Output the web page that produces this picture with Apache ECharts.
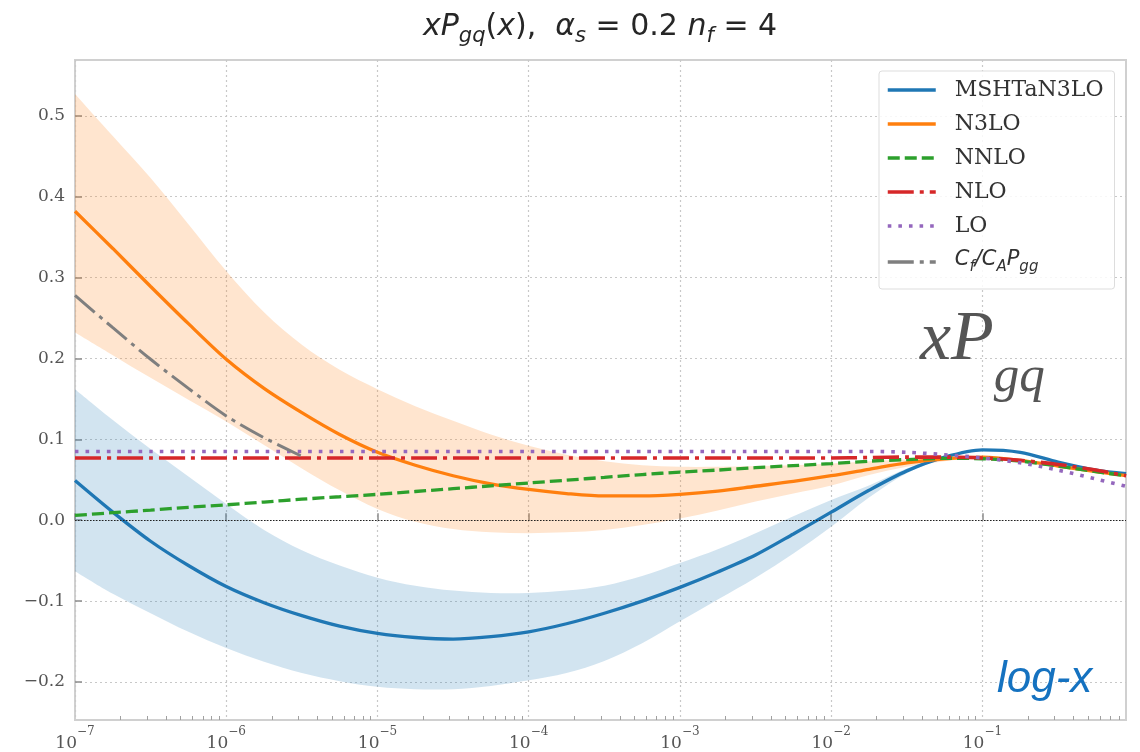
<!DOCTYPE html>
<html>
<head>
<meta charset="utf-8">
<script src="https://cdn.jsdelivr.net/npm/echarts@6/dist/echarts.min.js"></script>
<style>
  html, body { margin: 0; padding: 0; background: #ffffff; }
  #chart { width: 1140px; height: 752px; }
</style>
</head>
<body>
<div id="chart"></div>
<script>
// Sample grid: log10(x) positions where the curves are tabulated
const xExp = [-7, -6.75, -6.5, -6.25, -6, -5.75, -5.5, -5.25, -5, -4.75, -4.5, -4.25, -4, -3.75,
  -3.5, -3.25, -3, -2.75, -2.5, -2.25, -2, -1.75, -1.5, -1.25, -1, -0.75, -0.5, -0.25, -0.05];

// MSHTaN3LO central value and uncertainty band
const mshtCentral = [0.049, 0.010, -0.026, -0.056, -0.082, -0.102, -0.118, -0.131, -0.140, -0.145,
  -0.147, -0.144, -0.138, -0.128, -0.115, -0.100, -0.083, -0.064, -0.043, -0.017, 0.010, 0.037,
  0.061, 0.078, 0.087, 0.084, 0.072, 0.062, 0.0575];
const mshtUpper = [0.162, 0.124, 0.088, 0.054, 0.020, -0.012, -0.037, -0.056, -0.071, -0.081,
  -0.087, -0.090, -0.090, -0.087, -0.081, -0.069, -0.053, -0.036, -0.016, 0.005, 0.025, 0.043,
  0.064, 0.079, 0.088, 0.085, 0.073, 0.0625, 0.058];
const mshtLower = [-0.063, -0.091, -0.115, -0.138, -0.158, -0.175, -0.189, -0.199, -0.206, -0.209,
  -0.209, -0.205, -0.198, -0.189, -0.174, -0.152, -0.125, -0.098, -0.071, -0.041, -0.008, 0.028,
  0.058, 0.077, 0.086, 0.083, 0.071, 0.0615, 0.057];

// N3LO central value and uncertainty band
const n3loCentral = [0.382, 0.336, 0.289, 0.243, 0.199, 0.163, 0.133, 0.106, 0.084, 0.068, 0.055,
  0.045, 0.038, 0.033, 0.030, 0.030, 0.032, 0.036, 0.042, 0.048, 0.055, 0.063, 0.071, 0.076,
  0.078, 0.074, 0.067, 0.060, 0.055];
const n3loUpper = [0.527, 0.475, 0.423, 0.366, 0.308, 0.257, 0.217, 0.186, 0.162, 0.141, 0.123,
  0.106, 0.092, 0.081, 0.073, 0.068, 0.066, 0.066, 0.067, 0.068, 0.070, 0.073, 0.075, 0.077,
  0.079, 0.075, 0.068, 0.061, 0.056];
const n3loLower = [0.232, 0.204, 0.176, 0.149, 0.122, 0.093, 0.064, 0.037, 0.014, -0.002, -0.011,
  -0.015, -0.016, -0.015, -0.012, -0.006, 0.002, 0.012, 0.023, 0.033, 0.043, 0.056, 0.066, 0.073,
  0.077, 0.073, 0.066, 0.059, 0.054];

const nnlo = [0.006, 0.0093, 0.0125, 0.016, 0.019, 0.0225, 0.026, 0.029, 0.032, 0.0355, 0.039,
  0.0425, 0.046, 0.0495, 0.053, 0.0565, 0.0595, 0.062, 0.065, 0.0675, 0.070, 0.073, 0.075, 0.0765,
  0.076, 0.073, 0.067, 0.060, 0.055];
const nlo = [0.077, 0.077, 0.077, 0.077, 0.077, 0.077, 0.077, 0.077, 0.077, 0.077, 0.077, 0.077,
  0.077, 0.077, 0.077, 0.077, 0.077, 0.077, 0.077, 0.077, 0.077, 0.0775, 0.078, 0.078, 0.077,
  0.074, 0.069, 0.062, 0.055];
const lo = [0.085, 0.085, 0.085, 0.085, 0.085, 0.085, 0.085, 0.085, 0.085, 0.085, 0.085, 0.085,
  0.085, 0.085, 0.085, 0.085, 0.085, 0.085, 0.085, 0.085, 0.085, 0.085, 0.084, 0.081, 0.077,
  0.071, 0.062, 0.051, 0.042];
const cfcaPgg = [0.278, 0.238, 0.199, 0.163, 0.129, 0.102, 0.079];

const seriesNames = ['MSHTaN3LO', 'N3LO', 'NNLO', 'NLO', 'LO', 'CfCA_Pgg'];
const xTickValues = [1e-7, 1e-6, 1e-5, 1e-4, 1e-3, 1e-2, 1e-1];
const yTickValues = [-0.2, -0.1, 0.0, 0.1, 0.2, 0.3, 0.4, 0.5];

const X_MIN = 1e-7, X_MAX = 0.89;
const Y_MIN = -0.247, Y_MAX = 0.569;

const xVals = xExp.map(e => Math.pow(10, e));
const toPairs = ys => ys.map((y, i) => [xVals[i], y]);

// minor log ticks 2..9 within every decade
const xMinorTicks = [];
for (let d = -7; d <= -1; d++) {
  for (let m = 2; m <= 9; m++) {
    const v = m * Math.pow(10, d);
    if (v < X_MAX) xMinorTicks.push(v);
  }
}

const C = {
  blue: '#1f77b4', orange: '#ff7f0e', green: '#2ca02c',
  red: '#d62728', purple: '#9467bd', gray: '#7f7f7f'
};

// Catmull-Rom spline through pixel points, as SVG path commands (without the initial move)
function splineSegments(p) {
  let d = '';
  for (let i = 0; i < p.length - 1; i++) {
    const p0 = p[Math.max(i - 1, 0)], p1 = p[i], p2 = p[i + 1], p3 = p[Math.min(i + 2, p.length - 1)];
    const c1x = p1[0] + (p2[0] - p0[0]) / 6, c1y = p1[1] + (p2[1] - p0[1]) / 6;
    const c2x = p2[0] - (p3[0] - p1[0]) / 6, c2y = p2[1] - (p3[1] - p1[1]) / 6;
    d += ' C' + c1x + ',' + c1y + ' ' + c2x + ',' + c2y + ' ' + p2[0] + ',' + p2[1];
  }
  return d;
}

// Shaded uncertainty band between a lower and an upper curve
function bandSeries(lower, upper, color) {
  const rows = xVals.map((x, i) => [x, lower[i], upper[i]]);
  return {
    type: 'custom', silent: true, z: 1, clip: true,
    data: rows,
    encode: { x: 0, y: [1, 2] },
    renderItem: (params, api) => {
      if (params.dataIndex !== 0) return null;
      const top = rows.map(r => api.coord([r[0], r[2]]));
      const bot = rows.map(r => api.coord([r[0], r[1]])).reverse();
      const d = 'M' + top[0][0] + ',' + top[0][1] + splineSegments(top) +
        ' L' + bot[0][0] + ',' + bot[0][1] + splineSegments(bot) + ' Z';
      return {
        type: 'path',
        shape: { pathData: d },
        style: { fill: color, opacity: 0.2, stroke: null }
      };
    }
  };
}

function curve(name, ys, color, width, type) {
  return {
    name: name, type: 'line', symbol: 'none', smooth: 0.3, z: 3,
    data: toPairs(ys),
    lineStyle: { color: color, width: width, type: type, cap: 'butt' },
    itemStyle: { color: color }
  };
}

const gridLine = { show: true, lineStyle: { color: '#c8c8c8', width: 1.2, type: [2, 3] } };
const serif = 'DejaVu Serif';
const ink = '#262626';

const chart = echarts.init(document.getElementById('chart'), null, { renderer: 'canvas' });

const option = {
  animation: false,
  backgroundColor: '#ffffff',
  title: {
    text: '{i|xP}{s|gq}{n|(}{i|x}{n|),  }{i|α}{s|s}{n| = 0.2 }{i|n}{s|f}{n| = 4}',
    left: 418,
    top: 7,
    textStyle: {
      fontWeight: 'normal',
      rich: {
        i: { fontFamily: 'DejaVu Sans', fontStyle: 'italic', fontWeight: 'normal', fontSize: 30, lineHeight: 30, verticalAlign: 'top', color: ink },
        n: { fontFamily: 'DejaVu Sans', fontWeight: 'normal', fontSize: 30, lineHeight: 30, verticalAlign: 'top', color: ink },
        s: { fontFamily: 'DejaVu Sans', fontStyle: 'italic', fontWeight: 'normal', fontSize: 21, lineHeight: 35, verticalAlign: 'bottom', color: ink }
      }
    }
  },
  grid: {
    left: 75, right: 14, top: 60, bottom: 30,
    show: true, borderColor: '#d0d0d0', borderWidth: 2, backgroundColor: 'transparent'
  },
  legend: {
    data: seriesNames,
    orient: 'vertical',
    left: 879, top: 71,
    padding: [8, 11, 14, 7],
    itemWidth: 48, itemHeight: 14, itemGap: 12,
    backgroundColor: 'rgba(255,255,255,0.85)',
    borderColor: '#dddddd', borderWidth: 1, borderRadius: 3,
    itemStyle: { opacity: 0 },
    lineStyle: { width: 3.5 },
    formatter: name => name === 'CfCA_Pgg'
      ? '{c|C}{cs|f}{c|/}{c|C}{cs|A}{c|P}{cs|gg}'
      : name,
    textStyle: {
      fontFamily: serif, fontSize: 22, color: '#333333', padding: [0, 0, 0, 14],
      rich: {
        c: { fontFamily: 'DejaVu Sans', fontStyle: 'italic', fontSize: 21, lineHeight: 21, verticalAlign: 'top', color: '#333333' },
        cs: { fontFamily: 'DejaVu Sans', fontStyle: 'italic', fontSize: 15, lineHeight: 26, verticalAlign: 'bottom', color: '#333333' }
      }
    }
  },
  xAxis: [
    {
      type: 'log', logBase: 10, min: X_MIN, max: X_MAX,
      axisLine: { show: false },
      axisTick: { show: true, inside: true, length: 7, customValues: xTickValues, lineStyle: { color: '#8c8c8c', width: 1.5 } },
      axisLabel: {
        customValues: xTickValues,
        margin: 6,
        formatter: v => '{b|10}{p|' + String(Math.round(Math.log10(v))).replace('-', '−') + '}',
        rich: {
          b: { fontFamily: serif, fontSize: 17, lineHeight: 26, verticalAlign: 'bottom', color: '#555555' },
          p: { fontFamily: serif, fontSize: 12, lineHeight: 13, verticalAlign: 'top', color: '#555555' }
        }
      },
      splitLine: gridLine
    },
    {
      type: 'log', logBase: 10, min: X_MIN, max: X_MAX, position: 'bottom',
      axisLine: { show: false },
      axisTick: { show: true, inside: true, length: 4, customValues: xMinorTicks, lineStyle: { color: '#a0a0a0', width: 1 } },
      axisLabel: { show: false },
      splitLine: { show: false }
    }
  ],
  yAxis: {
    type: 'value', min: Y_MIN, max: Y_MAX,
    axisLine: { show: false },
    axisTick: { show: true, inside: true, length: 7, customValues: yTickValues, lineStyle: { color: '#8c8c8c', width: 1.5 } },
    axisLabel: {
      customValues: yTickValues,
      margin: 10,
      fontFamily: serif, fontSize: 17, color: '#555555',
      formatter: v => (v < 0 ? '−' : '') + Math.abs(v).toFixed(1)
    },
    splitLine: gridLine
  },
  series: [
    bandSeries(n3loLower, n3loUpper, C.orange),
    bandSeries(mshtLower, mshtUpper, C.blue),
    Object.assign(curve('MSHTaN3LO', mshtCentral, C.blue, 3.3, 'solid'), {
      markLine: {
        silent: true, symbol: 'none', label: { show: false },
        lineStyle: { color: '#222222', width: 1, type: [1.5, 1.5] },
        data: [{ yAxis: 0 }]
      }
    }),
    curve('N3LO', n3loCentral, C.orange, 3.3, 'solid'),
    curve('NNLO', nnlo, C.green, 3.3, [12, 5]),
    curve('NLO', nlo, C.red, 3.6, [26, 6, 4, 6]),
    curve('LO', lo, C.purple, 3.6, [3.6, 7]),
    curve('CfCA_Pgg', cfcaPgg, C.gray, 3, [26, 6, 4, 6])
  ],
  graphic: [
    {
      type: 'text', left: 920, top: 306, z: 10,
      style: {
        text: '{a|xP}{b|gq}',
        rich: {
          a: { fontFamily: 'Liberation Serif', fontStyle: 'italic', fontSize: 70, lineHeight: 70, verticalAlign: 'top', fill: '#555555' },
          b: { fontFamily: 'Liberation Serif', fontStyle: 'italic', fontSize: 51, lineHeight: 97, verticalAlign: 'bottom', fill: '#555555' }
        }
      }
    },
    {
      type: 'text', left: 997, top: 658, z: 10,
      style: {
        text: 'log-x',
        font: 'italic 44px "Liberation Sans"',
        fill: '#1572c0'
      }
    }
  ]
};

chart.setOption(option);
</script>
</body>
</html>
